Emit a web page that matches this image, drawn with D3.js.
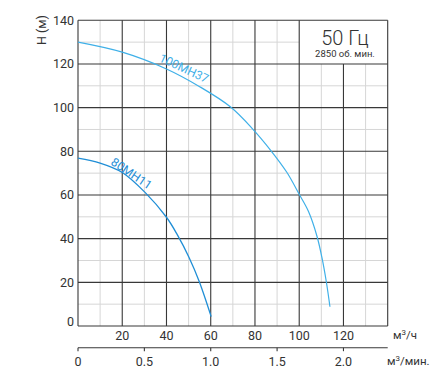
<!DOCTYPE html>
<html>
<head>
<meta charset="utf-8">
<script src="https://cdn.jsdelivr.net/npm/d3@7"></script>
<style>
  body { margin: 0; background: #fff; }
  text { font-family: Roboto, "Noto Sans", sans-serif; fill: #333; }
</style>
</head>
<body>
<div id="chart"></div>
<script>
// curve data (Q in m3/h, H in m)
var q100 = [0, 20, 40, 55, 69, 79, 87, 94.4, 100, 104.2, 108, 110.3, 112.2, 113.9];
var h100 = [130, 125.4, 117.7, 109.6, 100.3, 90.2, 80.6, 70.4, 60.3, 52.4, 41.2, 31.2, 20.6, 8.8];
var q80 = [0, 10, 20, 30.3, 40, 45, 50.2, 54.8, 60.2];
var h80 = [76.9, 74.6, 70.3, 61.2, 49.8, 41.6, 31.4, 20.4, 4.3];

var yTicks = [0, 20, 40, 60, 80, 100, 120, 140];
var xTicks = [20, 40, 60, 80, 100, 120];
var minTicks = [0, 0.5, 1.0, 1.5, 2.0];

var W = 448, H = 376;
var pLeft = 78, pRight = 387.7, pTop = 20.3, pBottom = 326;

var svg = d3.select("#chart").append("svg")
    .attr("width", W).attr("height", H);

var x = d3.scaleLinear().domain([0, 140]).range([pLeft, pRight]);
var y = d3.scaleLinear().domain([0, 140]).range([pBottom, pTop]);
var xm = d3.scaleLinear().domain([0, 140 / 60]).range([pLeft, pRight]);

// minor grid
var minor = d3.range(10, 140, 20);
svg.append("g").selectAll("line").data(minor).join("line")
    .attr("x1", d => x(d)).attr("x2", d => x(d))
    .attr("y1", pTop).attr("y2", pBottom)
    .attr("stroke", "#d6d6d6").attr("stroke-width", 1);
svg.append("g").selectAll("line").data(minor).join("line")
    .attr("y1", d => y(d)).attr("y2", d => y(d))
    .attr("x1", pLeft).attr("x2", pRight)
    .attr("stroke", "#d6d6d6").attr("stroke-width", 1);

// white box for the frequency label
svg.append("rect")
    .attr("x", x(100)).attr("y", y(140))
    .attr("width", x(140) - x(100)).attr("height", y(120) - y(140))
    .attr("fill", "#fff");

// major grid
var major = d3.range(0, 160, 20);
svg.append("g").selectAll("line").data(major).join("line")
    .attr("x1", d => x(d)).attr("x2", d => x(d))
    .attr("y1", d => d == 120 ? y(120) : pTop).attr("y2", pBottom)
    .attr("stroke", "#383838").attr("stroke-width", 1.1);
svg.append("g").selectAll("line").data(major).join("line")
    .attr("y1", d => y(d)).attr("y2", d => y(d))
    .attr("x1", pLeft).attr("x2", pRight)
    .attr("stroke", "#383838").attr("stroke-width", 1.1);

// y tick labels (the zero is lifted off the axis)
svg.append("g").selectAll("text").data(yTicks).join("text")
    .attr("x", pLeft - 4).attr("y", d => y(d) + (d == 0 ? 0 : 4.5))
    .attr("text-anchor", "end").attr("font-size", 12.5)
    .text(d => d);

svg.append("text")
    .attr("transform", "translate(46,30) rotate(-90)")
    .attr("text-anchor", "middle").attr("font-size", 12.5)
    .text("H (м)");

// top x labels
svg.append("g").selectAll("text").data(xTicks).join("text")
    .attr("x", d => x(d)).attr("y", 339.5)
    .attr("text-anchor", "middle").attr("font-size", 12.5)
    .text(d => d);
svg.append("text").attr("x", 393).attr("y", 339).attr("font-size", 11.5)
    .html("м<tspan dy='-4' font-size='8'>3</tspan><tspan dy='4'>/ч</tspan>");

// second axis, m3/min
var ax = svg.append("g").attr("transform", "translate(0,347.7)");
ax.append("line").attr("x1", pLeft).attr("x2", pRight)
    .attr("stroke", "#383838").attr("stroke-width", 1.1);
ax.selectAll(".tk").data(minTicks).join("line")
    .attr("x1", d => xm(d)).attr("x2", d => xm(d))
    .attr("y1", 0).attr("y2", 3.5)
    .attr("stroke", "#383838").attr("stroke-width", 1.1);
ax.selectAll("text").data(minTicks).join("text")
    .attr("x", d => xm(d)).attr("y", 18)
    .attr("text-anchor", "middle").attr("font-size", 12.5)
    .text(d => d == 0 ? "0" : d.toFixed(1));
svg.append("text").attr("x", 387).attr("y", 365).attr("font-size", 11.5)
    .html("м<tspan dy='-4' font-size='8'>3</tspan><tspan dy='4'>/мин.</tspan>");

// curves
var line = d3.line().x(d => x(d[0])).y(d => y(d[1])).curve(d3.curveCatmullRom.alpha(0.5));
svg.append("path").datum(d3.zip(q100, h100))
    .attr("d", line).attr("fill", "none")
    .attr("stroke", "#3fb0e8").attr("stroke-width", 1.2);
svg.append("path").datum(d3.zip(q80, h80))
    .attr("d", line).attr("fill", "none")
    .attr("stroke", "#1f8ed6").attr("stroke-width", 1.3);

// curve labels, sitting on their curves
svg.append("text")
    .attr("transform", "translate(" + x(36.3) + "," + y(121.4) + ") rotate(25)")
    .attr("font-size", 12).style("fill", "#3fb0e8")
    .text("100MH37");
svg.append("text")
    .attr("transform", "translate(" + x(14.5) + "," + y(74.2) + ") rotate(34)")
    .attr("font-size", 12).style("fill", "#1f8ed6")
    .text("80MH11");

// frequency box
svg.append("text").attr("x", 345).attr("y", 44.5)
    .attr("text-anchor", "middle").attr("font-size", 20).attr("font-weight", 300)
    .text("50 Гц");
svg.append("text").attr("x", 345).attr("y", 57)
    .attr("text-anchor", "middle").attr("font-size", 9.5)
    .text("2850 об. мин.");
</script>
</body>
</html>
